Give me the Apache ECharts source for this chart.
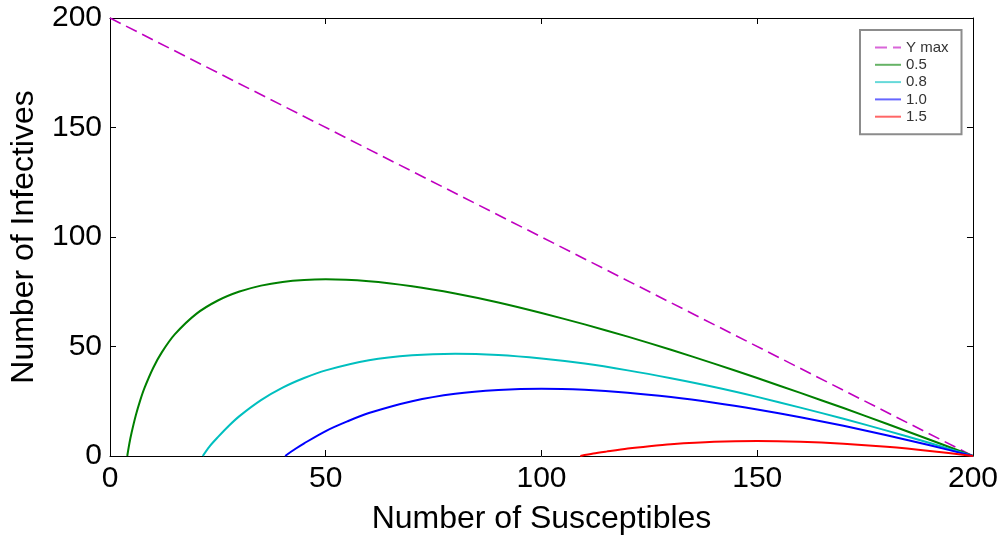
<!DOCTYPE html>
<html>
<head>
<meta charset="utf-8">
<script src="https://cdn.jsdelivr.net/npm/echarts@6/dist/echarts.min.js"></script>
<style>
html,body{margin:0;padding:0;background:#fff;}
#chart{width:1001px;height:543px;}
</style>
</head>
<body>
<div id="chart"></div>
<script>
// ---- data ----
var xTicks = [0, 50, 100, 150, 200];
var yTicks = [0, 50, 100, 150, 200];
var legendNames = ['Y max', '0.5', '0.8', '1.0', '1.5'];

var yMaxS = [0, 200];
var yMaxI = [200, 0];

var s05 = [4.0, 4.5, 5, 6, 7, 8, 10, 12, 15, 20, 25, 30, 35, 40, 45, 50, 60, 70, 80, 90, 100, 110, 120, 130, 140, 150, 160, 170, 180, 190, 200];
var i05 = [0, 5.8, 10.6, 18.7, 25.4, 31.1, 40.2, 47.3, 55.5, 64.9, 71.0, 75.1, 77.8, 79.5, 80.4, 80.7, 79.8, 77.5, 74.2, 70.1, 65.3, 60.1, 54.5, 48.5, 42.2, 35.6, 28.8, 21.9, 14.7, 7.4, 0];

var s08 = [21.5, 23, 25, 27.5, 30, 35, 40, 45, 50, 60, 70, 80, 90, 100, 110, 120, 130, 140, 150, 160, 170, 180, 190, 200];
var i08 = [0, 4.2, 8.6, 13.7, 18.2, 25.5, 31.2, 35.6, 39.1, 43.7, 46.0, 46.7, 46.1, 44.5, 42.2, 39.1, 35.5, 31.5, 27.0, 22.1, 17.0, 11.6, 5.9, 0];

var s10 = [40.6, 43, 45, 50, 55, 60, 70, 80, 90, 100, 110, 120, 130, 140, 150, 160, 170, 180, 190, 200];
var i10 = [0, 3.3, 5.8, 11.4, 15.8, 19.6, 25.0, 28.4, 30.1, 30.7, 30.2, 28.9, 26.9, 24.3, 21.2, 17.7, 13.8, 9.5, 4.9, 0];

var s15 = [109, 112, 115, 120, 125, 130, 140, 150, 160, 170, 180, 190, 200];
var i15 = [0, 1.1, 2.0, 3.4, 4.5, 5.4, 6.5, 6.85, 6.5, 5.6, 4.2, 2.3, 0];

function pairs(xs, ys) { return xs.map(function (x, k) { return [x, ys[k]]; }); }

var FONT = "'Liberation Sans', Arial, Helvetica, sans-serif";
var chart = echarts.init(document.getElementById('chart'), null, {renderer: 'canvas'});

function lineSeries(name, xs, ys, color, extra) {
  var s = {
    name: name, type: 'line', data: pairs(xs, ys), showSymbol: false, symbol: 'none',
    smooth: 0.3, animation: false,
    lineStyle: {color: color, width: 2}, itemStyle: {color: color},
    emphasis: {disabled: true}
  };
  if (extra) { for (var k in extra) s[k] = extra[k]; }
  return s;
}

var axisCommon = {
  type: 'value', min: 0, max: 200, interval: 50,
  splitLine: {show: false},
  axisLine: {show: true, onZero: false, lineStyle: {color: '#000', width: 1}},
  axisTick: {show: true, inside: true, length: 6, lineStyle: {color: '#000', width: 1}}
};

function mk(base, extra) {
  var o = JSON.parse(JSON.stringify(base));
  for (var k in extra) o[k] = extra[k];
  return o;
}

var option = {
  backgroundColor: '#fff',
  animation: false,
  grid: {left: 110, right: 28, top: 18, bottom: 87, containLabel: false},
  legend: {
    show: true, data: legendNames, orient: 'vertical',
    left: 860, top: 30,
    padding: [10, 13, 10, 14],
    itemWidth: 26, itemHeight: 14, itemGap: 2.3,
    backgroundColor: '#fff', borderColor: '#8c8c8c', borderWidth: 2,
    itemStyle: {opacity: 0},
    lineStyle: {width: 2, opacity: 0.6},
    textStyle: {fontFamily: FONT, fontSize: 15, color: '#333'},
    selectedMode: false
  },
  xAxis: [
    mk(axisCommon, {
      position: 'bottom',
      axisLabel: {fontFamily: FONT, fontSize: 30, color: '#000', margin: 8},
      name: 'Number of Susceptibles', nameLocation: 'middle', nameGap: 47,
      nameTextStyle: {fontFamily: FONT, fontSize: 32, color: '#000'}
    }),
    mk(axisCommon, {position: 'top', axisLabel: {show: false}})
  ],
  yAxis: [
    mk(axisCommon, {
      position: 'left',
      axisLabel: {fontFamily: FONT, fontSize: 30, color: '#000', margin: 8},
      name: 'Number of Infectives', nameLocation: 'middle', nameGap: 70,
      nameTextStyle: {fontFamily: FONT, fontSize: 32, color: '#000'}
    }),
    mk(axisCommon, {position: 'right', axisLabel: {show: false}})
  ],
  series: [
    lineSeries('Y max', yMaxS, yMaxI, '#c000c0', {smooth: false, lineStyle: {color: '#c000c0', width: 1.6, type: [12, 6]}}),
    lineSeries('0.5', s05, i05, '#008000'),
    lineSeries('0.8', s08, i08, '#00bfbf'),
    lineSeries('1.0', s10, i10, '#0000ff'),
    lineSeries('1.5', s15, i15, '#ff0000')
  ]
};
chart.setOption(option);
</script>
</body>
</html>
